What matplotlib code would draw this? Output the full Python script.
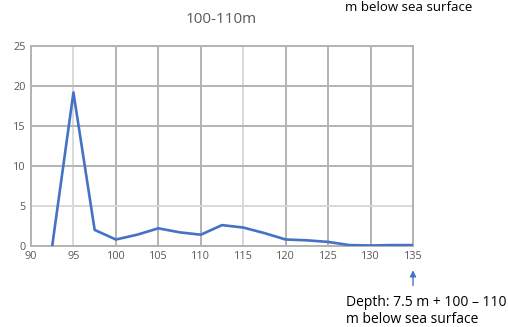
import matplotlib
matplotlib.use("Agg")
from matplotlib import pyplot as plt

plt.rcParams['font.family'] = ['Open Sans', 'DejaVu Sans']

# depth values
depth = [92.5, 95, 97.5, 100, 102.5, 105, 107.5, 110, 112.5, 115, 117.5,
         120, 122.5, 125, 127.5, 130, 132.5, 135]
value = [0, 19.2, 2.0, 0.8, 1.4, 2.2, 1.7, 1.4, 2.6, 2.3, 1.6,
         0.8, 0.7, 0.5, 0.1, 0.05, 0.1, 0.1]
xticks = [90, 95, 100, 105, 110, 115, 120, 125, 130, 135]
yticks = [0, 5, 10, 15, 20, 25]

fig = plt.figure(figsize=(5.08, 3.27), dpi=100)
ax = fig.add_axes([0.061, 0.248, 0.752, 0.611])

ax.plot(depth, value, color='#4472C4', lw=1.9, zorder=3)
ax.set_xlim(90, 135)
ax.set_ylim(0, 25)
ax.set_xticks(xticks)
ax.set_yticks(yticks)
ax.grid(True, color='#b3b3b3', lw=1.4)
ax.set_axisbelow(True)
# a few grid lines look lighter in the original
for ln, t in zip(ax.get_xgridlines(), xticks):
    if t in (95, 115):
        ln.set_color('#d9d9d9')
for ln, t in zip(ax.get_ygridlines(), yticks):
    if t == 5:
        ln.set_color('#d9d9d9')
for s in ax.spines.values():
    s.set_color('#b3b3b3')
    s.set_linewidth(1.4)
ax.tick_params(length=0, labelsize=7.8, colors='#595959', pad=4)

fig.text(0.435, 0.94, '100-110m', ha='center', va='center', fontsize=11, color='#595959')
fig.text(0.679, 0.978, 'm below sea surface', ha='left', va='center', fontsize=9.5, color='black')

ax.annotate('', xy=(135, -2.7), xytext=(135, -5.3), xycoords='data',
            arrowprops=dict(arrowstyle='-|>', color='#4472C4', lw=1, mutation_scale=9),
            annotation_clip=False)
fig.text(0.681, 0.049, 'Depth: 7.5 m + 100 \u2013 110\nm below sea surface',
         ha='left', va='center', fontsize=10, color='black', linespacing=1.25)

plt.savefig('out.png', dpi=100)
plt.close()
